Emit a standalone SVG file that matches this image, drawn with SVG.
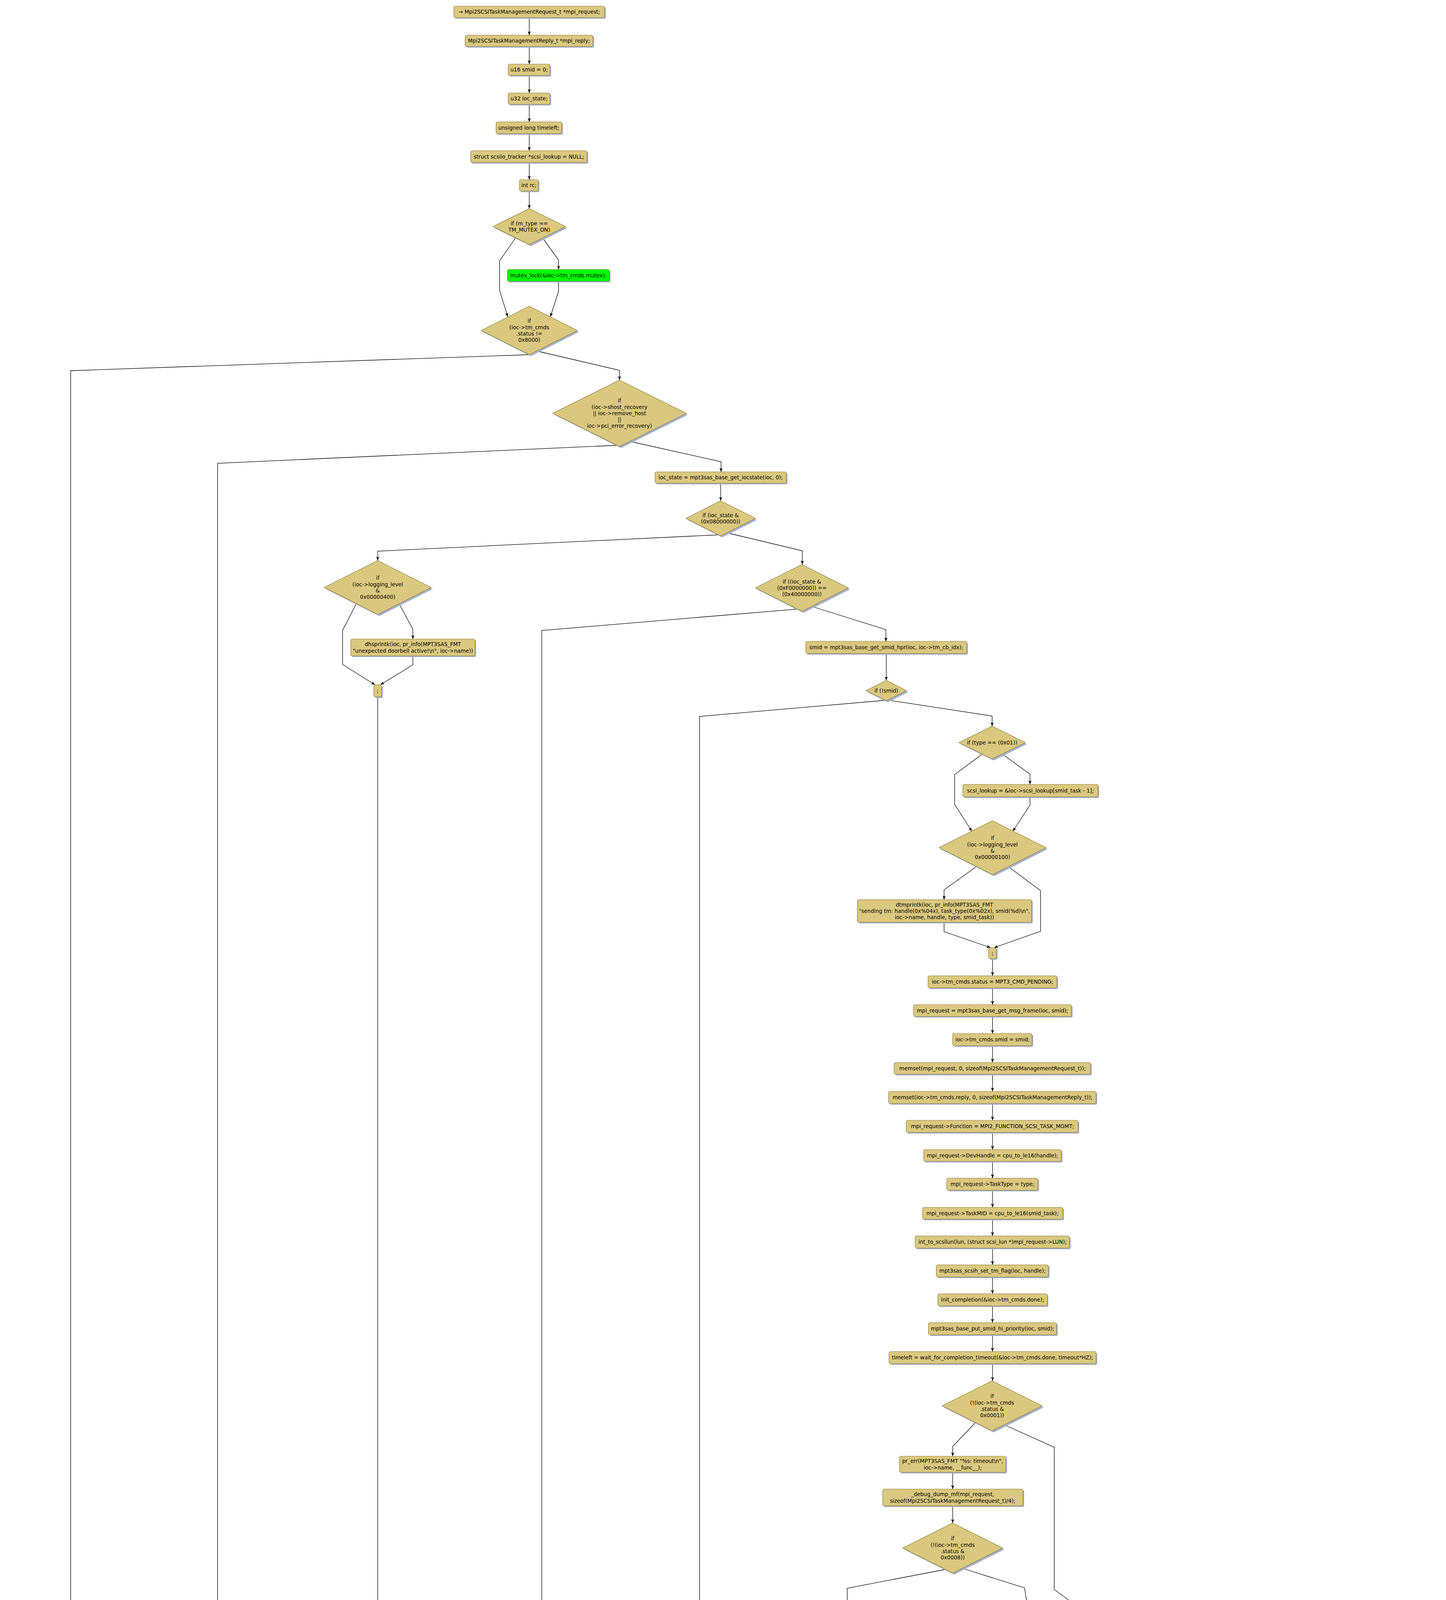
<svg xmlns="http://www.w3.org/2000/svg" width="3702" height="6838" viewBox="0 0 3702 6838">
<defs>
<marker id="a" markerWidth="11" markerHeight="8" refX="10" refY="4" orient="auto" markerUnits="userSpaceOnUse"><path d="M0,0 L10,4 L0,8 L2.5,4 z" fill="#000"/></marker>
</defs>
<style>
.sh{fill:#a5b2cf}
.b{fill:#dbc87f;stroke:#8e7c36;stroke-width:1.2}
.g{fill:#00ff00;stroke:#4a8a30;stroke-width:1.2}
.t{font-family:"DejaVu Sans",Verdana,sans-serif;font-size:13.5px;fill:#000;text-anchor:middle}
#edges polyline{fill:none;stroke:#000;stroke-width:1.3;marker-end:url(#a)}
</style>
<rect width="3702" height="6838" fill="#fff"/>
<g id="edges">
<polyline points="1355,45 1355,90"/>
<polyline points="1355,119 1355,164"/>
<polyline points="1355,193 1355,238"/>
<polyline points="1355,267 1355,312"/>
<polyline points="1355,342 1355,386"/>
<polyline points="1355,416 1355,460"/>
<polyline points="1355,489 1355,534"/>
<polyline points="1319,610 1279,668 1279,743 1300,811"/>
<polyline points="1390,610 1430,666 1430,690"/>
<polyline points="1430,720 1430,746 1409,811"/>
<polyline points="1355,908 181,949 181,4384"/>
<polyline points="1376,899 1586,948 1586,973"/>
<polyline points="1579,1140 557,1186 557,4384"/>
<polyline points="1617,1131 1846,1182 1846,1208"/>
<polyline points="1845,1237 1845,1282"/>
<polyline points="1843,1369 967,1411 967,1435"/>
<polyline points="1861,1364 2054,1410 2054,1445"/>
<polyline points="912,1546 877,1614 877,1701 960,1753"/>
<polyline points="1022,1546 1057,1611 1057,1636"/>
<polyline points="1057,1679 1057,1702 974,1753"/>
<polyline points="967,1784 967,4385"/>
<polyline points="2044,1559 1387,1614 1387,4300"/>
<polyline points="2077,1552 2268,1612 2268,1642"/>
<polyline points="2269,1673 2269,1742"/>
<polyline points="2264,1793 1791,1834 1791,4385"/>
<polyline points="2279,1793 2540,1833 2540,1859"/>
<polyline points="2514,1931 2444,1983 2444,2059 2488,2128"/>
<polyline points="2567,1931 2637,1982 2637,2008"/>
<polyline points="2637,2040 2637,2061 2593,2128"/>
<polyline points="2499,2219 2417,2278 2417,2303"/>
<polyline points="2582,2219 2664,2280 2664,2384 2545,2426"/>
<polyline points="2417,2361 2417,2385 2536,2426"/>
<polyline points="2541,2454 2541,2498"/>
<polyline points="2541,2529 2541,2572"/>
<polyline points="2541,2602 2541,2646"/>
<polyline points="2541,2677 2541,2720"/>
<polyline points="2541,2750 2541,2794"/>
<polyline points="2541,2825 2541,2868"/>
<polyline points="2541,2899 2541,2943"/>
<polyline points="2541,2973 2541,3016"/>
<polyline points="2541,3047 2541,3091"/>
<polyline points="2541,3121 2541,3164"/>
<polyline points="2541,3195 2541,3238"/>
<polyline points="2541,3269 2541,3312"/>
<polyline points="2541,3343 2541,3386"/>
<polyline points="2541,3417 2541,3460"/>
<polyline points="2541,3491 2541,3535"/>
<polyline points="2497,3642 2439,3703 2439,3728"/>
<polyline points="2572,3648 2699,3705 2699,4069 2756,4111 2736,4132"/>
<polyline points="2439,3769 2439,3812"/>
<polyline points="2439,3855 2439,3899"/>
<polyline points="2419,4018 2169,4066 2169,4152"/>
<polyline points="2464,4015 2623,4065 2635,4140"/>
<polyline points="2665,4221 2541,4274 2541,4305"/>
<polyline points="2714,4224 2920,4275 2920,5439 2662,5489"/>
<polyline points="2169,4193 2169,4304"/>
<polyline points="2169,4334 2169,4390"/>
<polyline points="2169,4420 2169,4524"/>
<polyline points="2169,4554 2169,4701"/>
<polyline points="2169,4732 2169,4785 1221,4825"/>
<polyline points="2541,4334 2541,4390"/>
<polyline points="2541,4420 2541,4475"/>
<polyline points="2499,4586 2416,4647 2416,4781 2529,4825"/>
<polyline points="2582,4586 2665,4645 2665,4671"/>
<polyline points="2665,4761 2665,4785 2545,4825"/>
<polyline points="2536,4855 2536,4899"/>
<polyline points="2503,5019 2374,5076 2374,5439 2632,5489"/>
<polyline points="2576,5016 2665,5074 2665,5100"/>
<polyline points="2665,5130 2665,5193"/>
<polyline points="2626,5294 2563,5352 2563,5378"/>
<polyline points="2706,5294 2766,5354 2766,5439 2656,5487"/>
<polyline points="2563,5418 2563,5442 2629,5491"/>
<polyline points="2639,5545 2035,5591 2035,6014"/>
<polyline points="2636,5546 2275,5591 2275,6014"/>
<polyline points="2647,5548 2627,5588 2627,5613"/>
<polyline points="2660,5545 3036,5588 3036,5613"/>
<polyline points="2662,5543 3465,5588 3465,5613"/>
<polyline points="2627,5643 2627,5766"/>
<polyline points="2627,5795 2627,5958"/>
<polyline points="2556,6063 2556,6117 2590,6157 2590,6295"/>
<polyline points="2698,6063 2698,6118 2663,6157 2663,6202"/>
<polyline points="2663,6232 2663,6295"/>
<polyline points="2035,6044 2035,6202"/>
<polyline points="2035,6232 2035,6295"/>
<polyline points="2276,6044 2276,6202"/>
<polyline points="2276,6232 2276,6295"/>
<polyline points="3037,5643 3037,5687"/>
<polyline points="2877,5795 2975,5914 2975,6014"/>
<polyline points="3196,5795 3099,5914 3099,6014"/>
<polyline points="2975,6044 2975,6162 3021,6202"/>
<polyline points="3099,6044 3099,6162 3052,6202"/>
<polyline points="3465,5643 3465,5766"/>
<polyline points="3465,5795 3465,5940"/>
<polyline points="3328,6050 3403,6157 3403,6202"/>
<polyline points="3602,6050 3527,6157 3527,6202"/>
<polyline points="3403,6232 3403,6256 3450,6295"/>
<polyline points="3527,6232 3527,6256 3480,6295"/>
<polyline points="2036,6325 2036,6349 2482,6389"/>
<polyline points="2276,6325 2276,6349 2532,6389"/>
<polyline points="2590,6325 2589,6349 2585,6389"/>
<polyline points="2663,6325 2663,6349 2635,6389"/>
<polyline points="3036,6232 3036,6347 2686,6389"/>
<polyline points="3464,6325 3464,6350 2734,6389"/>
<polyline points="2608,6420 2608,6464"/>
<polyline points="2608,6494 2608,6538"/>
<polyline points="2561,6610 2561,6789"/>
<polyline points="2635,6619 2721,6671 2721,6695"/>
<polyline points="2721,6726 2721,6750 2608,6789"/>
<polyline points="181,4426 181,4523"/>
<polyline points="181,4554 181,4700"/>
<polyline points="181,4731 181,4784 1131,4825"/>
<polyline points="557,4426 557,4523"/>
<polyline points="557,4554 557,4700"/>
<polyline points="557,4731 557,4784 1150,4825"/>
<polyline points="968,4426 968,4523"/>
<polyline points="968,4554 968,4700"/>
<polyline points="968,4731 968,4784 1164,4825"/>
<polyline points="1387,4341 1387,4385"/>
<polyline points="1387,4426 1387,4523"/>
<polyline points="1387,4554 1387,4700"/>
<polyline points="1387,4731 1387,4784 1189,4825"/>
<polyline points="1791,4426 1791,4523"/>
<polyline points="1791,4554 1791,4700"/>
<polyline points="1791,4731 1791,4784 1206,4825"/>
<polyline points="1177,4856 1177,4920"/>
<polyline points="1131,4991 1131,5036 1097,5077 1097,5152 1150,5205"/>
<polyline points="1224,4991 1224,5036 1256,5075 1256,5099"/>
<polyline points="1256,5129 1256,5153 1205,5205"/>
</g>
<g id="n1"><rect class="sh" x="1165" y="19" width="386" height="29" rx="4"/><rect class="b" x="1162" y="16" width="386" height="29" rx="4"/><text class="t" x="1355" y="35.3">→ Mpi2SCSITaskManagementRequest_t *mpi_request;</text></g>
<g id="n2"><rect class="sh" x="1194" y="93" width="327" height="29" rx="4"/><rect class="b" x="1191" y="90" width="327" height="29" rx="4"/><text class="t" x="1354.5" y="109.3">Mpi2SCSITaskManagementReply_t *mpi_reply;</text></g>
<g id="n3"><rect class="sh" x="1304" y="167" width="107" height="29" rx="4"/><rect class="b" x="1301" y="164" width="107" height="29" rx="4"/><text class="t" x="1354.5" y="183.3">u16 smid = 0;</text></g>
<g id="n4"><rect class="sh" x="1304" y="241" width="107" height="29" rx="4"/><rect class="b" x="1301" y="238" width="107" height="29" rx="4"/><text class="t" x="1354.5" y="257.3">u32 ioc_state;</text></g>
<g id="n5"><rect class="sh" x="1273" y="315" width="168" height="30" rx="4"/><rect class="b" x="1270" y="312" width="168" height="30" rx="4"/><text class="t" x="1354" y="331.8">unsigned long timeleft;</text></g>
<g id="n6"><rect class="sh" x="1208" y="389" width="298" height="30" rx="4"/><rect class="b" x="1205" y="386" width="298" height="30" rx="4"/><text class="t" x="1354" y="405.8">struct scsiio_tracker *scsi_lookup = NULL;</text></g>
<g id="n7"><rect class="sh" x="1333" y="463" width="48" height="29" rx="4"/><rect class="b" x="1330" y="460" width="48" height="29" rx="4"/><text class="t" x="1354" y="479.3">int rc;</text></g>
<g id="d8"><polygon class="sh" points="1359,538 1452,584 1359,630 1266,584"/><polygon class="b" points="1355,534 1448,580 1355,626 1262,580"/><text class="t"><tspan x="1355" y="576.6">if (m_type ==</tspan><tspan x="1355" y="592.9">TM_MUTEX_ON)</tspan></text></g>
<g id="g9"><rect class="sh" x="1302" y="693" width="261" height="30" rx="4"/><rect class="g" x="1299" y="690" width="261" height="30" rx="4"/><text class="t" x="1429.5" y="709.8">mutex_lock(&amp;ioc-&gt;tm_cmds.mutex);</text></g>
<g id="d10"><polygon class="sh" points="1359,788 1482,850 1359,912 1236,850"/><polygon class="b" points="1355,784 1478,846 1355,908 1232,846"/><text class="t"><tspan x="1355" y="826.3">if</tspan><tspan x="1355" y="842.6">(ioc-&gt;tm_cmds</tspan><tspan x="1355" y="858.9">.status !=</tspan><tspan x="1355" y="875.2">0x8000)</tspan></text></g>
<g id="d11"><polygon class="sh" points="1590,977 1761,1062 1590,1147 1419,1062"/><polygon class="b" points="1586,973 1757,1058 1586,1143 1415,1058"/><text class="t"><tspan x="1586" y="1030.2">if</tspan><tspan x="1586" y="1046.5">(ioc-&gt;shost_recovery</tspan><tspan x="1586" y="1062.8">|| ioc-&gt;remove_host</tspan><tspan x="1586" y="1079.1">||</tspan><tspan x="1586" y="1095.4">ioc-&gt;pci_error_recovery)</tspan></text></g>
<g id="n12"><rect class="sh" x="1680" y="1211" width="336" height="29" rx="4"/><rect class="b" x="1677" y="1208" width="336" height="29" rx="4"/><text class="t" x="1845" y="1227.3">ioc_state = mpt3sas_base_get_iocstate(ioc, 0);</text></g>
<g id="d13"><polygon class="sh" points="1849,1286 1938,1331 1849,1376 1760,1331"/><polygon class="b" points="1845,1282 1934,1327 1845,1372 1756,1327"/><text class="t"><tspan x="1845" y="1323.7">if (ioc_state &amp;</tspan><tspan x="1845" y="1340">(0x08000000))</tspan></text></g>
<g id="d14"><polygon class="sh" points="971,1439 1108,1508 971,1577 834,1508"/><polygon class="b" points="967,1435 1104,1504 967,1573 830,1504"/><text class="t"><tspan x="967" y="1484.3">if</tspan><tspan x="967" y="1500.6">(ioc-&gt;logging_level</tspan><tspan x="967" y="1516.9">&amp;</tspan><tspan x="967" y="1533.2">0x00000400)</tspan></text></g>
<g id="n15"><rect class="sh" x="901" y="1639" width="318" height="43" rx="4"/><rect class="b" x="898" y="1636" width="318" height="43" rx="4"/><text class="t"><tspan x="1057" y="1654.2">dhsprintk(ioc, pr_info(MPT3SAS_FMT</tspan><tspan x="1057" y="1670.5">"unexpected doorbell active!\n", ioc-&gt;name))</tspan></text></g>
<g id="j16"><rect class="sh" x="960" y="1756" width="20" height="31" rx="4"/><rect class="b" x="957" y="1753" width="20" height="31" rx="4"/><text class="t" x="967" y="1773.3">;</text></g>
<g id="d17"><polygon class="sh" points="2057,1449 2176,1509 2057,1569 1938,1509"/><polygon class="b" points="2053,1445 2172,1505 2053,1565 1934,1505"/><text class="t"><tspan x="2053" y="1493.5">if ((ioc_state &amp;</tspan><tspan x="2053" y="1509.8">(0xF0000000)) ==</tspan><tspan x="2053" y="1526.1">(0x40000000))</tspan></text></g>
<g id="n18"><rect class="sh" x="2066" y="1645" width="412" height="31" rx="4"/><rect class="b" x="2063" y="1642" width="412" height="31" rx="4"/><text class="t" x="2269" y="1662.3">smid = mpt3sas_base_get_smid_hpr(ioc, ioc-&gt;tm_cb_idx);</text></g>
<g id="d19"><polygon class="sh" points="2273,1746 2325,1772 2273,1798 2221,1772"/><polygon class="b" points="2269,1742 2321,1768 2269,1794 2217,1768"/><text class="t" x="2269" y="1772.8">if (!smid)</text></g>
<g id="d20"><polygon class="sh" points="2544,1863 2629,1905 2544,1947 2459,1905"/><polygon class="b" points="2540,1859 2625,1901 2540,1943 2455,1901"/><text class="t" x="2540" y="1905.8">if (type == (0x01))</text></g>
<g id="n21"><rect class="sh" x="2468" y="2011" width="346" height="32" rx="4"/><rect class="b" x="2465" y="2008" width="346" height="32" rx="4"/><text class="t" x="2638" y="2028.8">scsi_lookup = &amp;ioc-&gt;scsi_lookup[smid_task - 1];</text></g>
<g id="d22"><polygon class="sh" points="2545,2105 2682,2174 2545,2243 2408,2174"/><polygon class="b" points="2541,2101 2678,2170 2541,2239 2404,2170"/><text class="t"><tspan x="2541" y="2150.3">if</tspan><tspan x="2541" y="2166.6">(ioc-&gt;logging_level</tspan><tspan x="2541" y="2182.9">&amp;</tspan><tspan x="2541" y="2199.2">0x00000100)</tspan></text></g>
<g id="n23"><rect class="sh" x="2198" y="2306" width="446" height="58" rx="4"/><rect class="b" x="2195" y="2303" width="446" height="58" rx="4"/><text class="t"><tspan x="2418" y="2320.5">dtmprintk(ioc, pr_info(MPT3SAS_FMT</tspan><tspan x="2418" y="2336.8">"sending tm: handle(0x%04x), task_type(0x%02x), smid(%d)\n",</tspan><tspan x="2418" y="2353.1">ioc-&gt;name, handle, type, smid_task))</tspan></text></g>
<g id="j24"><rect class="sh" x="2534" y="2429" width="20" height="28" rx="4"/><rect class="b" x="2531" y="2426" width="20" height="28" rx="4"/><text class="t" x="2541" y="2444.8">;</text></g>
<g id="n25"><rect class="sh" x="2379" y="2501" width="330" height="31" rx="4"/><rect class="b" x="2376" y="2498" width="330" height="31" rx="4"/><text class="t" x="2541" y="2518.3">ioc-&gt;tm_cmds.status = MPT3_CMD_PENDING;</text></g>
<g id="n26"><rect class="sh" x="2342" y="2575" width="404" height="30" rx="4"/><rect class="b" x="2339" y="2572" width="404" height="30" rx="4"/><text class="t" x="2541" y="2591.8">mpi_request = mpt3sas_base_get_msg_frame(ioc, smid);</text></g>
<g id="n27"><rect class="sh" x="2442" y="2649" width="203" height="31" rx="4"/><rect class="b" x="2439" y="2646" width="203" height="31" rx="4"/><text class="t" x="2541" y="2666.3">ioc-&gt;tm_cmds.smid = smid;</text></g>
<g id="n28"><rect class="sh" x="2292" y="2723" width="503" height="30" rx="4"/><rect class="b" x="2289" y="2720" width="503" height="30" rx="4"/><text class="t" x="2541" y="2739.8">memset(mpi_request, 0, sizeof(Mpi2SCSITaskManagementRequest_t));</text></g>
<g id="n29"><rect class="sh" x="2278" y="2797" width="531" height="31" rx="4"/><rect class="b" x="2275" y="2794" width="531" height="31" rx="4"/><text class="t" x="2541" y="2814.3">memset(ioc-&gt;tm_cmds.reply, 0, sizeof(Mpi2SCSITaskManagementReply_t));</text></g>
<g id="n30"><rect class="sh" x="2323" y="2871" width="440" height="31" rx="4"/><rect class="b" x="2320" y="2868" width="440" height="31" rx="4"/><text class="t" x="2541" y="2888.3">mpi_request-&gt;Function = MPI2_FUNCTION_SCSI_TASK_MGMT;</text></g>
<g id="n31"><rect class="sh" x="2368" y="2946" width="352" height="30" rx="4"/><rect class="b" x="2365" y="2943" width="352" height="30" rx="4"/><text class="t" x="2541" y="2962.8">mpi_request-&gt;DevHandle = cpu_to_le16(handle);</text></g>
<g id="n32"><rect class="sh" x="2427" y="3019" width="233" height="31" rx="4"/><rect class="b" x="2424" y="3016" width="233" height="31" rx="4"/><text class="t" x="2541" y="3036.3">mpi_request-&gt;TaskType = type;</text></g>
<g id="n33"><rect class="sh" x="2365" y="3094" width="359" height="30" rx="4"/><rect class="b" x="2362" y="3091" width="359" height="30" rx="4"/><text class="t" x="2541" y="3110.8">mpi_request-&gt;TaskMID = cpu_to_le16(smid_task);</text></g>
<g id="n34"><rect class="sh" x="2346" y="3167" width="395" height="31" rx="4"/><rect class="b" x="2343" y="3164" width="395" height="31" rx="4"/><text class="t" x="2541" y="3184.3">int_to_scsilun(lun, (struct scsi_lun *)mpi_request-&gt;LUN);</text></g>
<g id="n35"><rect class="sh" x="2400" y="3241" width="287" height="31" rx="4"/><rect class="b" x="2397" y="3238" width="287" height="31" rx="4"/><text class="t" x="2541" y="3258.3">mpt3sas_scsih_set_tm_flag(ioc, handle);</text></g>
<g id="n36"><rect class="sh" x="2404" y="3315" width="280" height="31" rx="4"/><rect class="b" x="2401" y="3312" width="280" height="31" rx="4"/><text class="t" x="2541" y="3332.3">init_completion(&amp;ioc-&gt;tm_cmds.done);</text></g>
<g id="n37"><rect class="sh" x="2380" y="3389" width="328" height="31" rx="4"/><rect class="b" x="2377" y="3386" width="328" height="31" rx="4"/><text class="t" x="2541" y="3406.3">mpt3sas_base_put_smid_hi_priority(ioc, smid);</text></g>
<g id="n38"><rect class="sh" x="2279" y="3463" width="530" height="31" rx="4"/><rect class="b" x="2276" y="3460" width="530" height="31" rx="4"/><text class="t" x="2541" y="3480.3">timeleft = wait_for_completion_timeout(&amp;ioc-&gt;tm_cmds.done, timeout*HZ);</text></g>
<g id="d39"><polygon class="sh" points="2544,3539 2672,3603 2544,3667 2416,3603"/><polygon class="b" points="2540,3535 2668,3599 2540,3663 2412,3599"/><text class="t"><tspan x="2540" y="3579.3">if</tspan><tspan x="2540" y="3595.6">(!(ioc-&gt;tm_cmds</tspan><tspan x="2540" y="3611.9">.status &amp;</tspan><tspan x="2540" y="3628.2">0x0001))</tspan></text></g>
<g id="n40"><rect class="sh" x="2306" y="3731" width="272" height="41" rx="4"/><rect class="b" x="2303" y="3728" width="272" height="41" rx="4"/><text class="t"><tspan x="2439" y="3745.2">pr_err(MPT3SAS_FMT "%s: timeout\n",</tspan><tspan x="2439" y="3761.5">ioc-&gt;name, __func__);</tspan></text></g>
<g id="n41"><rect class="sh" x="2263" y="3815" width="359" height="43" rx="4"/><rect class="b" x="2260" y="3812" width="359" height="43" rx="4"/><text class="t"><tspan x="2439" y="3830.2">_debug_dump_mf(mpi_request,</tspan><tspan x="2439" y="3846.5">sizeof(Mpi2SCSITaskManagementRequest_t)/4);</tspan></text></g>
<g id="d42"><polygon class="sh" points="2443,3903 2571,3967 2443,4031 2315,3967"/><polygon class="b" points="2439,3899 2567,3963 2439,4027 2311,3963"/><text class="t"><tspan x="2439" y="3943.3">if</tspan><tspan x="2439" y="3959.6">(!(ioc-&gt;tm_cmds</tspan><tspan x="2439" y="3975.9">.status &amp;</tspan><tspan x="2439" y="3992.2">0x0008))</tspan></text></g>
<g id="d43"><polygon class="sh" points="2697,4115 2821,4177 2697,4239 2573,4177"/><polygon class="b" points="2693,4111 2817,4173 2693,4235 2569,4173"/><text class="t"><tspan x="2693" y="4153.3">if</tspan><tspan x="2693" y="4169.6">(ioc-&gt;tm_cmds</tspan><tspan x="2693" y="4185.9">.status &amp;</tspan><tspan x="2693" y="4202.2">0x0004)</tspan></text></g>
<g id="n44"><rect class="sh" x="1972" y="4155" width="400" height="41" rx="4"/><rect class="b" x="1969" y="4152" width="400" height="41" rx="4"/><text class="t"><tspan x="2169" y="4169.2">rc = mpt3sas_base_hard_reset_handler(ioc, CAN_SLEEP,</tspan><tspan x="2169" y="4185.5">FORCE_BIG_HAMMER);</tspan></text></g>
<g id="n45"><rect class="sh" x="2064" y="4307" width="216" height="30" rx="4"/><rect class="b" x="2061" y="4304" width="216" height="30" rx="4"/><text class="t" x="2169" y="4323.8">rc = (!rc) ? SUCCESS : FAILED;</text></g>
<g id="n46"><rect class="sh" x="2001" y="4393" width="342" height="30" rx="4"/><rect class="b" x="1998" y="4390" width="342" height="30" rx="4"/><text class="t" x="2169" y="4409.8">ioc-&gt;tm_cmds.status = MPT3_CMD_NOT_USED;</text></g>
<g id="n47"><rect class="sh" x="2023" y="4527" width="298" height="30" rx="4"/><rect class="b" x="2020" y="4524" width="298" height="30" rx="4"/><text class="t" x="2169" y="4543.8">mpt3sas_scsih_clear_tm_flag(ioc, handle);</text></g>
<g id="n48"><rect class="sh" x="2125" y="4704" width="94" height="31" rx="4"/><rect class="b" x="2122" y="4701" width="94" height="31" rx="4"/><text class="t" x="2169" y="4721.3">goto err_out</text></g>
<g id="n49"><rect class="sh" x="2299" y="4308" width="490" height="29" rx="4"/><rect class="b" x="2296" y="4305" width="490" height="29" rx="4"/><text class="t" x="2541" y="4324.3">mpt3sas_trigger_master(ioc, MASTER_TRIGGER_TASK_MANAGMENT);</text></g>
<g id="n50"><rect class="sh" x="2426" y="4393" width="236" height="30" rx="4"/><rect class="b" x="2423" y="4390" width="236" height="30" rx="4"/><text class="t" x="2541" y="4409.8">mpi_reply = ioc-&gt;tm_cmds.reply;</text></g>
<g id="d51"><polygon class="sh" points="2545,4479 2682,4546 2545,4613 2408,4546"/><polygon class="b" points="2541,4475 2678,4542 2541,4609 2404,4542"/><text class="t"><tspan x="2541" y="4522.3">if</tspan><tspan x="2541" y="4538.6">(ioc-&gt;logging_level</tspan><tspan x="2541" y="4554.9">&amp;</tspan><tspan x="2541" y="4571.2">0x00000100)</tspan></text></g>
<g id="n52"><rect class="sh" x="2439" y="4674" width="456" height="90" rx="4"/><rect class="b" x="2436" y="4671" width="456" height="90" rx="4"/><text class="t"><tspan x="2664" y="4688.2">dtmprintk(ioc, pr_info(MPT3SAS_FMT "complete tm: " \</tspan><tspan x="2664" y="4704.5">"ioc_status(0x%04x), loginfo(0x%08x), term_count(0x%08x)\n",</tspan><tspan x="2664" y="4720.8">ioc-&gt;name, le16_to_cpu(mpi_reply-&gt;IOCStatus),</tspan><tspan x="2664" y="4737.1">le32_to_cpu(mpi_reply-&gt;IOCLogInfo),</tspan><tspan x="2664" y="4753.4">le32_to_cpu(mpi_reply-&gt;TerminationCount)))</tspan></text></g>
<g id="j53"><rect class="sh" x="2530" y="4828" width="19" height="30" rx="4"/><rect class="b" x="2527" y="4825" width="19" height="30" rx="4"/><text class="t" x="2536.5" y="4844.8">;</text></g>
<g id="d54"><polygon class="sh" points="2540,4903 2676,4971 2540,5039 2404,4971"/><polygon class="b" points="2536,4899 2672,4967 2536,5035 2400,4967"/><text class="t"><tspan x="2536" y="4947.3">if</tspan><tspan x="2536" y="4963.6">(ioc-&gt;logging_level</tspan><tspan x="2536" y="4979.9">&amp;</tspan><tspan x="2536" y="4996.2">0x00000100)</tspan></text></g>
<g id="n55"><rect class="sh" x="2469" y="5103" width="400" height="30" rx="4"/><rect class="b" x="2466" y="5100" width="400" height="30" rx="4"/><text class="t" x="2666" y="5119.8">_scsih_response_code(ioc, mpi_reply-&gt;ResponseCode);</text></g>
<g id="d56"><polygon class="sh" points="2669,5197 2787,5257 2669,5317 2551,5257"/><polygon class="b" points="2665,5193 2783,5253 2665,5313 2547,5253"/><text class="t"><tspan x="2665" y="5249.7">if</tspan><tspan x="2665" y="5266">(mpi_reply-&gt;IOCStatus)</tspan></text></g>
<g id="n57"><rect class="sh" x="2387" y="5381" width="358" height="40" rx="4"/><rect class="b" x="2384" y="5378" width="358" height="40" rx="4"/><text class="t"><tspan x="2563" y="5394.7">_debug_dump_mf(mpi_request,</tspan><tspan x="2563" y="5411">sizeof(Mpi2SCSITaskManagementRequest_t)/4);</tspan></text></g>
<g id="d58"><polygon class="sh" points="2651,5486 2717,5519 2651,5552 2585,5519"/><polygon class="b" points="2647,5482 2713,5515 2647,5548 2581,5515"/><text class="t" x="2647" y="5519.8">switch (type)</text></g>
<g id="c_abort"><rect class="sh" x="2441" y="5616" width="379" height="30" rx="4"/><rect class="b" x="2438" y="5613" width="379" height="30" rx="4"/><text class="t" x="2627.5" y="5632.8">case MPI2_SCSITASKMGMT_TASKTYPE_ABORT_TASK:</text></g>
<g id="c_abort_rc"><rect class="sh" x="2574" y="5769" width="112" height="29" rx="4"/><rect class="b" x="2571" y="5766" width="112" height="29" rx="4"/><text class="t" x="2627" y="5785.3">rc = SUCCESS;</text></g>
<g id="d_abort"><polygon class="sh" points="2632,5962 2774,6033 2632,6104 2490,6033"/><polygon class="b" points="2628,5958 2770,6029 2628,6100 2486,6029"/><text class="t"><tspan x="2628" y="6009.3">if</tspan><tspan x="2628" y="6025.6">(scsi_lookup-&gt;scmd</tspan><tspan x="2628" y="6041.9">== ((void</tspan><tspan x="2628" y="6058.2">*)0))</tspan></text></g>
<g id="c_abort_fail"><rect class="sh" x="2619" y="6205" width="94" height="30" rx="4"/><rect class="b" x="2616" y="6202" width="94" height="30" rx="4"/><text class="t" x="2663" y="6221.8">rc = FAILED;</text></g>
<g id="b_abort1"><rect class="sh" x="2567" y="6298" width="53" height="30" rx="4"/><rect class="b" x="2564" y="6295" width="53" height="30" rx="4"/><text class="t" x="2590.5" y="6314.8">break;</text></g>
<g id="b_abort2"><rect class="sh" x="2640" y="6298" width="53" height="30" rx="4"/><rect class="b" x="2637" y="6295" width="53" height="30" rx="4"/><text class="t" x="2663.5" y="6314.8">break;</text></g>
<g id="c_default"><rect class="sh" x="2008" y="6017" width="60" height="30" rx="4"/><rect class="b" x="2005" y="6014" width="60" height="30" rx="4"/><text class="t" x="2035" y="6033.8">default:</text></g>
<g id="c_query"><rect class="sh" x="2089" y="6017" width="379" height="30" rx="4"/><rect class="b" x="2086" y="6014" width="379" height="30" rx="4"/><text class="t" x="2275.5" y="6033.8">case MPI2_SCSITASKMGMT_TASKTYPE_QUERY_TASK:</text></g>
<g id="c_def_rc"><rect class="sh" x="1992" y="6205" width="93" height="30" rx="4"/><rect class="b" x="1989" y="6202" width="93" height="30" rx="4"/><text class="t" x="2035.5" y="6221.8">rc = FAILED;</text></g>
<g id="c_q_rc"><rect class="sh" x="2223" y="6205" width="113" height="30" rx="4"/><rect class="b" x="2220" y="6202" width="113" height="30" rx="4"/><text class="t" x="2276.5" y="6221.8">rc = SUCCESS;</text></g>
<g id="b_def"><rect class="sh" x="2012" y="6298" width="53" height="30" rx="4"/><rect class="b" x="2009" y="6295" width="53" height="30" rx="4"/><text class="t" x="2035.5" y="6314.8">break;</text></g>
<g id="b_q"><rect class="sh" x="2253" y="6298" width="52" height="30" rx="4"/><rect class="b" x="2250" y="6295" width="52" height="30" rx="4"/><text class="t" x="2276" y="6314.8">break;</text></g>
<g id="c_target"><rect class="sh" x="2841" y="5616" width="398" height="30" rx="4"/><rect class="b" x="2838" y="5613" width="398" height="30" rx="4"/><text class="t" x="3037" y="5632.8">case MPI2_SCSITASKMGMT_TASKTYPE_TARGET_RESET:</text></g>
<g id="d_target"><polygon class="sh" points="3041,5691 3230,5785 3041,5879 2852,5785"/><polygon class="b" points="3037,5687 3226,5781 3037,5875 2848,5781"/><text class="t"><tspan x="3037" y="5769.5">if</tspan><tspan x="3037" y="5785.8">(_scsih_scsi_lookup_find_by_target(ioc,</tspan><tspan x="3037" y="5802.1">id, channel))</tspan></text></g>
<g id="c_t_s"><rect class="sh" x="2922" y="6017" width="113" height="30" rx="4"/><rect class="b" x="2919" y="6014" width="113" height="30" rx="4"/><text class="t" x="2975.5" y="6033.8">rc = SUCCESS;</text></g>
<g id="c_t_f"><rect class="sh" x="3055" y="6017" width="93" height="30" rx="4"/><rect class="b" x="3052" y="6014" width="93" height="30" rx="4"/><text class="t" x="3098.5" y="6033.8">rc = FAILED;</text></g>
<g id="b_t"><rect class="sh" x="3012" y="6205" width="55" height="30" rx="4"/><rect class="b" x="3009" y="6202" width="55" height="30" rx="4"/><text class="t" x="3036.5" y="6221.8">break;</text></g>
<g id="c_abrtset"><rect class="sh" x="3266" y="5616" width="403" height="30" rx="4"/><rect class="b" x="3263" y="5613" width="403" height="30" rx="4"/><text class="t" x="3464.5" y="5632.8">case MPI2_SCSITASKMGMT_TASKTYPE_ABRT_TASK_SET:</text></g>
<g id="c_lur"><rect class="sh" x="3249" y="5769" width="438" height="29" rx="4"/><rect class="b" x="3246" y="5766" width="438" height="29" rx="4"/><text class="t" x="3465" y="5785.3">case MPI2_SCSITASKMGMT_TASKTYPE_LOGICAL_UNIT_RESET:</text></g>
<g id="d_lun"><polygon class="sh" points="3469,5944 3648,6033 3469,6122 3290,6033"/><polygon class="b" points="3465,5940 3644,6029 3465,6118 3286,6029"/><text class="t"><tspan x="3465" y="6017.5">if</tspan><tspan x="3465" y="6033.8">(_scsih_scsi_lookup_find_by_lun(ioc,</tspan><tspan x="3465" y="6050.1">id, lun, channel))</tspan></text></g>
<g id="c_l_s"><rect class="sh" x="3350" y="6205" width="112" height="30" rx="4"/><rect class="b" x="3347" y="6202" width="112" height="30" rx="4"/><text class="t" x="3403" y="6221.8">rc = SUCCESS;</text></g>
<g id="c_l_f"><rect class="sh" x="3483" y="6205" width="94" height="30" rx="4"/><rect class="b" x="3480" y="6202" width="94" height="30" rx="4"/><text class="t" x="3527" y="6221.8">rc = FAILED;</text></g>
<g id="b_l"><rect class="sh" x="3441" y="6298" width="52" height="30" rx="4"/><rect class="b" x="3438" y="6295" width="52" height="30" rx="4"/><text class="t" x="3464" y="6314.8">break;</text></g>
<g id="n_clear2"><rect class="sh" x="2463" y="6392" width="297" height="31" rx="4"/><rect class="b" x="2460" y="6389" width="297" height="31" rx="4"/><text class="t" x="2608.5" y="6409.3">mpt3sas_scsih_clear_tm_flag(ioc, handle);</text></g>
<g id="n_status2"><rect class="sh" x="2441" y="6467" width="342" height="30" rx="4"/><rect class="b" x="2438" y="6464" width="342" height="30" rx="4"/><text class="t" x="2609" y="6483.8">ioc-&gt;tm_cmds.status = MPT3_CMD_NOT_USED;</text></g>
<g id="d_end"><polygon class="sh" points="2612,6542 2705,6589 2612,6636 2519,6589"/><polygon class="b" points="2608,6538 2701,6585 2608,6632 2515,6585"/><text class="t"><tspan x="2608" y="6581.7">if (m_type ==</tspan><tspan x="2608" y="6598">TM_MUTEX_ON)</tspan></text></g>
<g id="g_end"><rect class="sh" x="2584" y="6698" width="280" height="31" rx="4"/><rect class="g" x="2581" y="6695" width="280" height="31" rx="4"/><text class="t" x="2721" y="6715.3">mutex_unlock(&amp;ioc-&gt;tm_cmds.mutex);</text></g>
<g id="n_ret2"><rect class="sh" x="2542" y="6792" width="90" height="31" rx="4"/><rect class="b" x="2539" y="6789" width="90" height="31" rx="4"/><text class="t" x="2584" y="6809.3">return; rc →</text></g>
<g id="c1a"><rect class="sh" x="19" y="4387" width="330" height="42" rx="4"/><rect class="b" x="16" y="4384" width="330" height="42" rx="4"/><text class="t"><tspan x="181" y="4401.7">pr_info(MPT3SAS_FMT "%s: tm_cmd busy!!!\n",</tspan><tspan x="181" y="4418">__func__, ioc-&gt;name);</tspan></text></g>
<g id="c1b"><rect class="sh" x="137" y="4526" width="93" height="31" rx="4"/><rect class="b" x="134" y="4523" width="93" height="31" rx="4"/><text class="t" x="180.5" y="4543.3">rc = FAILED;</text></g>
<g id="c1c"><rect class="sh" x="137" y="4703" width="93" height="31" rx="4"/><rect class="b" x="134" y="4700" width="93" height="31" rx="4"/><text class="t" x="180.5" y="4720.3">goto err_out</text></g>
<g id="c2a"><rect class="sh" x="370" y="4387" width="381" height="42" rx="4"/><rect class="b" x="367" y="4384" width="381" height="42" rx="4"/><text class="t"><tspan x="557.5" y="4401.7">pr_info(MPT3SAS_FMT "%s: host reset in progress!\n",</tspan><tspan x="557.5" y="4418">__func__, ioc-&gt;name);</tspan></text></g>
<g id="c2b"><rect class="sh" x="514" y="4526" width="93" height="31" rx="4"/><rect class="b" x="511" y="4523" width="93" height="31" rx="4"/><text class="t" x="557.5" y="4543.3">rc = FAILED;</text></g>
<g id="c2c"><rect class="sh" x="514" y="4703" width="93" height="31" rx="4"/><rect class="b" x="511" y="4700" width="93" height="31" rx="4"/><text class="t" x="557.5" y="4720.3">goto err_out</text></g>
<g id="c3a"><rect class="sh" x="772" y="4388" width="398" height="41" rx="4"/><rect class="b" x="769" y="4385" width="398" height="41" rx="4"/><text class="t"><tspan x="968" y="4402.2">rc = mpt3sas_base_hard_reset_handler(ioc, CAN_SLEEP,</tspan><tspan x="968" y="4418.5">FORCE_BIG_HAMMER);</tspan></text></g>
<g id="c3b"><rect class="sh" x="863" y="4526" width="217" height="31" rx="4"/><rect class="b" x="860" y="4523" width="217" height="31" rx="4"/><text class="t" x="968.5" y="4543.3">rc = (!rc) ? SUCCESS : FAILED;</text></g>
<g id="c3c"><rect class="sh" x="923" y="4703" width="95" height="31" rx="4"/><rect class="b" x="920" y="4700" width="95" height="31" rx="4"/><text class="t" x="967.5" y="4720.3">goto err_out</text></g>
<g id="c4a"><rect class="sh" x="1246" y="4303" width="289" height="41" rx="4"/><rect class="b" x="1243" y="4300" width="289" height="41" rx="4"/><text class="t"><tspan x="1387.5" y="4317.2">mpt3sas_base_fault_info(ioc, ioc_state &amp;</tspan><tspan x="1387.5" y="4333.5">MPI2_DOORBELL_DATA_MASK);</tspan></text></g>
<g id="c4b"><rect class="sh" x="1191" y="4388" width="399" height="41" rx="4"/><rect class="b" x="1188" y="4385" width="399" height="41" rx="4"/><text class="t"><tspan x="1387.5" y="4402.2">rc = mpt3sas_base_hard_reset_handler(ioc, CAN_SLEEP,</tspan><tspan x="1387.5" y="4418.5">FORCE_BIG_HAMMER);</tspan></text></g>
<g id="c4c"><rect class="sh" x="1282" y="4526" width="217" height="31" rx="4"/><rect class="b" x="1279" y="4523" width="217" height="31" rx="4"/><text class="t" x="1387.5" y="4543.3">rc = (!rc) ? SUCCESS : FAILED;</text></g>
<g id="c4d"><rect class="sh" x="1343" y="4703" width="95" height="31" rx="4"/><rect class="b" x="1340" y="4700" width="95" height="31" rx="4"/><text class="t" x="1387.5" y="4720.3">goto err_out</text></g>
<g id="c5a"><rect class="sh" x="1609" y="4388" width="371" height="41" rx="4"/><rect class="b" x="1606" y="4385" width="371" height="41" rx="4"/><text class="t"><tspan x="1791.5" y="4402.2">pr_err(MPT3SAS_FMT "%s: failed obtaining a smid\n",</tspan><tspan x="1791.5" y="4418.5">ioc-&gt;name, __func__);</tspan></text></g>
<g id="c5b"><rect class="sh" x="1748" y="4526" width="94" height="31" rx="4"/><rect class="b" x="1745" y="4523" width="94" height="31" rx="4"/><text class="t" x="1792" y="4543.3">rc = FAILED;</text></g>
<g id="c5c"><rect class="sh" x="1746" y="4703" width="96" height="31" rx="4"/><rect class="b" x="1743" y="4700" width="96" height="31" rx="4"/><text class="t" x="1791" y="4720.3">goto err_out</text></g>
<g id="err_out"><rect class="sh" x="1133" y="4828" width="95" height="31" rx="4"/><rect class="b" x="1130" y="4825" width="95" height="31" rx="4"/><text class="t" x="1177.5" y="4845.3">label err_out</text></g>
<g id="d_err"><polygon class="sh" points="1181,4924 1274,4971 1181,5018 1088,4971"/><polygon class="b" points="1177,4920 1270,4967 1177,5014 1084,4967"/><text class="t"><tspan x="1177" y="4963.7">if (m_type ==</tspan><tspan x="1177" y="4980">TM_MUTEX_ON)</tspan></text></g>
<g id="g_err"><rect class="sh" x="1121" y="5102" width="278" height="30" rx="4"/><rect class="g" x="1118" y="5099" width="278" height="30" rx="4"/><text class="t" x="1257" y="5118.8">mutex_unlock(&amp;ioc-&gt;tm_cmds.mutex);</text></g>
<g id="ret1"><rect class="sh" x="1136" y="5208" width="90" height="31" rx="4"/><rect class="b" x="1133" y="5205" width="90" height="31" rx="4"/><text class="t" x="1178" y="5225.3">return; rc →</text></g>
</svg>
